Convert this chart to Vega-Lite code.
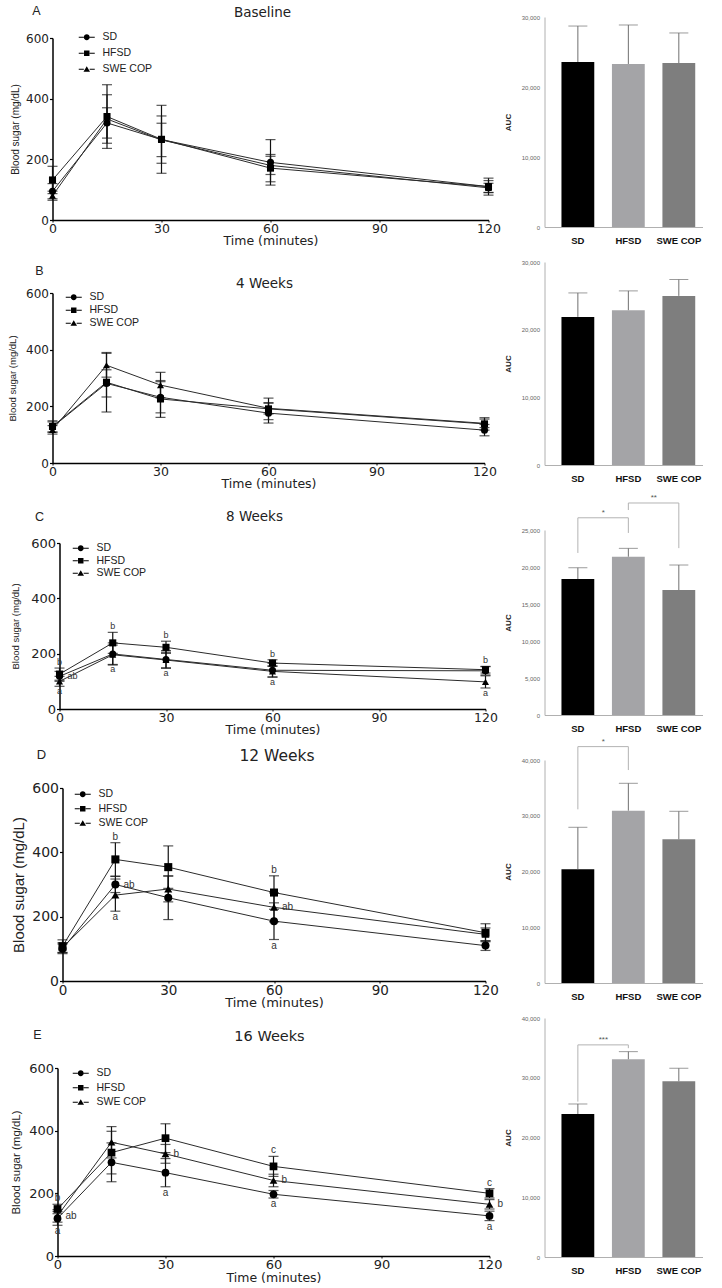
{
  "$schema": "https://vega.github.io/schema/vega-lite/v6.json",
  "background": "white",
  "padding": {"left": 7.5, "top": 4, "right": 0, "bottom": 0},
  "autosize": {"type": "pad"},
  "columns": 2,
  "bounds": "flush",
  "align": "each",
  "spacing": {"row": 35, "column": 55},
  "config": {"view": {"stroke": null}, "axis": {"grid": false}},
  "datasets": {
    "ogtt_baseline": [
      {"time": 0, "group": "SD", "mean": 95, "sd": 25, "sig": ""},
      {"time": 0, "group": "HFSD", "mean": 132, "sd": 45, "sig": ""},
      {"time": 0, "group": "SWE COP", "mean": 80, "sd": 15, "sig": ""},
      {"time": 15, "group": "SD", "mean": 320, "sd": 50, "sig": ""},
      {"time": 15, "group": "HFSD", "mean": 341, "sd": 105, "sig": ""},
      {"time": 15, "group": "SWE COP", "mean": 333, "sd": 80, "sig": ""},
      {"time": 30, "group": "SD", "mean": 265, "sd": 78, "sig": ""},
      {"time": 30, "group": "HFSD", "mean": 266, "sd": 112, "sig": ""},
      {"time": 30, "group": "SWE COP", "mean": 264, "sd": 55, "sig": ""},
      {"time": 60, "group": "SD", "mean": 190, "sd": 75, "sig": ""},
      {"time": 60, "group": "HFSD", "mean": 171, "sd": 45, "sig": ""},
      {"time": 60, "group": "SWE COP", "mean": 180, "sd": 30, "sig": ""},
      {"time": 120, "group": "SD", "mean": 110, "sd": 20, "sig": ""},
      {"time": 120, "group": "HFSD", "mean": 110, "sd": 28, "sig": ""},
      {"time": 120, "group": "SWE COP", "mean": 106, "sd": 15, "sig": ""}
    ],
    "ogtt_4w": [
      {"time": 0, "group": "SD", "mean": 127, "sd": 18, "sig": ""},
      {"time": 0, "group": "HFSD", "mean": 129, "sd": 20, "sig": ""},
      {"time": 0, "group": "SWE COP", "mean": 117, "sd": 15, "sig": ""},
      {"time": 15, "group": "SD", "mean": 281, "sd": 48, "sig": ""},
      {"time": 15, "group": "HFSD", "mean": 285, "sd": 105, "sig": ""},
      {"time": 15, "group": "SWE COP", "mean": 345, "sd": 42, "sig": ""},
      {"time": 30, "group": "SD", "mean": 232, "sd": 55, "sig": ""},
      {"time": 30, "group": "HFSD", "mean": 226, "sd": 65, "sig": ""},
      {"time": 30, "group": "SWE COP", "mean": 275, "sd": 45, "sig": ""},
      {"time": 60, "group": "SD", "mean": 176, "sd": 35, "sig": ""},
      {"time": 60, "group": "HFSD", "mean": 191, "sd": 38, "sig": ""},
      {"time": 60, "group": "SWE COP", "mean": 193, "sd": 20, "sig": ""},
      {"time": 120, "group": "SD", "mean": 116, "sd": 20, "sig": ""},
      {"time": 120, "group": "HFSD", "mean": 138, "sd": 22, "sig": ""},
      {"time": 120, "group": "SWE COP", "mean": 140, "sd": 15, "sig": ""}
    ],
    "ogtt_8w": [
      {"time": 0, "group": "SD", "mean": 118, "sd": 18, "sig": "ab"},
      {"time": 0, "group": "HFSD", "mean": 126, "sd": 22, "sig": "b"},
      {"time": 0, "group": "SWE COP", "mean": 100, "sd": 18, "sig": "a"},
      {"time": 15, "group": "SD", "mean": 199, "sd": 40, "sig": ""},
      {"time": 15, "group": "HFSD", "mean": 239, "sd": 38, "sig": "b"},
      {"time": 15, "group": "SWE COP", "mean": 196, "sd": 35, "sig": "a"},
      {"time": 30, "group": "SD", "mean": 179, "sd": 32, "sig": ""},
      {"time": 30, "group": "HFSD", "mean": 223, "sd": 22, "sig": "b"},
      {"time": 30, "group": "SWE COP", "mean": 177, "sd": 28, "sig": "a"},
      {"time": 60, "group": "SD", "mean": 140, "sd": 25, "sig": ""},
      {"time": 60, "group": "HFSD", "mean": 166, "sd": 12, "sig": "b"},
      {"time": 60, "group": "SWE COP", "mean": 136, "sd": 20, "sig": "a"},
      {"time": 120, "group": "SD", "mean": 138, "sd": 15, "sig": ""},
      {"time": 120, "group": "HFSD", "mean": 142, "sd": 12, "sig": "b"},
      {"time": 120, "group": "SWE COP", "mean": 98, "sd": 22, "sig": "a"}
    ],
    "ogtt_12w": [
      {"time": 0, "group": "SD", "mean": 100, "sd": 15, "sig": ""},
      {"time": 0, "group": "HFSD", "mean": 108, "sd": 20, "sig": ""},
      {"time": 0, "group": "SWE COP", "mean": 104, "sd": 15, "sig": ""},
      {"time": 15, "group": "SD", "mean": 300, "sd": 25, "sig": "ab"},
      {"time": 15, "group": "HFSD", "mean": 378, "sd": 52, "sig": "b"},
      {"time": 15, "group": "SWE COP", "mean": 267, "sd": 50, "sig": "a"},
      {"time": 30, "group": "SD", "mean": 259, "sd": 68, "sig": ""},
      {"time": 30, "group": "HFSD", "mean": 354, "sd": 66, "sig": ""},
      {"time": 30, "group": "SWE COP", "mean": 286, "sd": 40, "sig": ""},
      {"time": 60, "group": "SD", "mean": 186, "sd": 57, "sig": "a"},
      {"time": 60, "group": "HFSD", "mean": 275, "sd": 52, "sig": "b"},
      {"time": 60, "group": "SWE COP", "mean": 229, "sd": 45, "sig": "ab"},
      {"time": 120, "group": "SD", "mean": 110, "sd": 15, "sig": ""},
      {"time": 120, "group": "HFSD", "mean": 150, "sd": 28, "sig": ""},
      {"time": 120, "group": "SWE COP", "mean": 145, "sd": 20, "sig": ""}
    ],
    "ogtt_16w": [
      {"time": 0, "group": "SD", "mean": 120, "sd": 22, "sig": "a"},
      {"time": 0, "group": "HFSD", "mean": 150, "sd": 15, "sig": "b"},
      {"time": 0, "group": "SWE COP", "mean": 128, "sd": 20, "sig": "ab"},
      {"time": 15, "group": "SD", "mean": 299, "sd": 62, "sig": ""},
      {"time": 15, "group": "HFSD", "mean": 330, "sd": 68, "sig": ""},
      {"time": 15, "group": "SWE COP", "mean": 363, "sd": 50, "sig": ""},
      {"time": 30, "group": "SD", "mean": 266, "sd": 45, "sig": "a"},
      {"time": 30, "group": "HFSD", "mean": 376, "sd": 46, "sig": ""},
      {"time": 30, "group": "SWE COP", "mean": 326, "sd": 30, "sig": "b"},
      {"time": 60, "group": "SD", "mean": 197, "sd": 12, "sig": "a"},
      {"time": 60, "group": "HFSD", "mean": 286, "sd": 32, "sig": "c"},
      {"time": 60, "group": "SWE COP", "mean": 241, "sd": 20, "sig": "b"},
      {"time": 120, "group": "SD", "mean": 128, "sd": 15, "sig": "a"},
      {"time": 120, "group": "HFSD", "mean": 200, "sd": 15, "sig": "c"},
      {"time": 120, "group": "SWE COP", "mean": 165, "sd": 15, "sig": "b"}
    ],
    "auc_baseline": [
      {"group": "SD", "auc": 23570, "sd": 5140},
      {"group": "HFSD", "auc": 23290, "sd": 5570},
      {"group": "SWE COP", "auc": 23430, "sd": 4290}
    ],
    "auc_4w": [
      {"group": "SD", "auc": 21890, "sd": 3540},
      {"group": "HFSD", "auc": 22880, "sd": 2850},
      {"group": "SWE COP", "auc": 24990, "sd": 2420}
    ],
    "auc_8w": [
      {"group": "SD", "auc": 18370, "sd": 1530},
      {"group": "HFSD", "auc": 21390, "sd": 1130},
      {"group": "SWE COP", "auc": 16890, "sd": 3380}
    ],
    "auc_12w": [
      {"group": "SD", "auc": 20400, "sd": 7530},
      {"group": "HFSD", "auc": 30910, "sd": 4910},
      {"group": "SWE COP", "auc": 25780, "sd": 5020}
    ],
    "auc_16w": [
      {"group": "SD", "auc": 23940, "sd": 1670},
      {"group": "HFSD", "auc": 33100, "sd": 1270},
      {"group": "SWE COP", "auc": 29410, "sd": 2180}
    ],
    "brackets": [
      {"panel": "C", "bracket": "c1", "group": "SD", "pos": 1, "value": 21900},
      {"panel": "C", "bracket": "c1", "group": "SD", "pos": 2, "value": 26650},
      {"panel": "C", "bracket": "c1", "group": "HFSD", "pos": 3, "value": 26650},
      {"panel": "C", "bracket": "c1", "group": "HFSD", "pos": 4, "value": 24600},
      {"panel": "C", "bracket": "c2", "group": "HFSD", "pos": 1, "value": 27700},
      {"panel": "C", "bracket": "c2", "group": "HFSD", "pos": 2, "value": 28650},
      {"panel": "C", "bracket": "c2", "group": "SWE COP", "pos": 3, "value": 28650},
      {"panel": "C", "bracket": "c2", "group": "SWE COP", "pos": 4, "value": 22550},
      {"panel": "D", "bracket": "d1", "group": "SD", "pos": 1, "value": 31150},
      {"panel": "D", "bracket": "d1", "group": "SD", "pos": 2, "value": 42400},
      {"panel": "D", "bracket": "d1", "group": "HFSD", "pos": 3, "value": 42400},
      {"panel": "D", "bracket": "d1", "group": "HFSD", "pos": 4, "value": 38200},
      {"panel": "E", "bracket": "e1", "group": "SD", "pos": 1, "value": 26000},
      {"panel": "E", "bracket": "e1", "group": "SD", "pos": 2, "value": 35500},
      {"panel": "E", "bracket": "e1", "group": "HFSD", "pos": 3, "value": 35500},
      {"panel": "E", "bracket": "e1", "group": "HFSD", "pos": 4, "value": 34950}
    ],
    "stars": [
      {"panel": "C", "group": "HFSD", "value": 26650, "label": "*"},
      {"panel": "C", "group": "SWE COP", "value": 28650, "label": "**"},
      {"panel": "D", "group": "HFSD", "value": 42400, "label": "*"},
      {"panel": "E", "group": "HFSD", "value": 35500, "label": "***"}
    ]
  },
  "concat": [
    {
      "width": 437, "height": 203,
      "title": {"text": "Baseline", "anchor": "middle", "frame": "group", "baseline": "middle", "offset": -9, "dx": -8.5, "font": "DejaVu Sans", "fontSize": 13.5, "fontWeight": "normal", "color": "#222"},
      "data": {"name": "ogtt_baseline"},
      "transform": [
        {"calculate": "datum.mean + datum.sd", "as": "upper"},
        {"calculate": "datum.mean - datum.sd", "as": "lower"}
      ],
      "encoding": {
        "x": {"field": "time", "type": "quantitative",
          "scale": {"domain": [0, 120], "range": [0, 436], "nice": false, "zero": false},
          "axis": {"values": [0, 30, 60, 90, 120], "title": "Time (minutes)", "titleFont": "DejaVu Sans", "titleFontSize": 12.5, "titleFontWeight": "normal", "titleColor": "#222", "titlePadding": 0, "labelFont": "DejaVu Sans", "labelFontSize": 12.5, "labelColor": "#222", "labelPadding": 0, "labelFlush": false, "labelOverlap": false, "tickSize": 2, "tickColor": "#000", "domainColor": "#000", "domainWidth": 1.5}},
        "y": {"field": "mean", "type": "quantitative",
          "scale": {"domain": [0, 600], "range": [203, 21], "nice": false},
          "axis": {"values": [0, 200, 400, 600], "title": "Blood sugar (mg/dL)", "titleFont": "Liberation Sans", "titleFontSize": 10, "titleFontWeight": "normal", "titleColor": "#222", "titlePadding": 5, "labelFont": "DejaVu Sans", "labelFontSize": 12, "labelColor": "#222", "labelPadding": 1, "tickSize": 3, "tickColor": "#000", "tickWidth": 1.2, "domainColor": "#000", "domainWidth": 1.5}}
      },
      "layer": [
        {"mark": {"type": "line", "color": "#2b2b2b", "strokeWidth": 1}, "encoding": {"detail": {"field": "group"}}},
        {"mark": {"type": "rule", "color": "#111", "strokeWidth": 1.2}, "encoding": {"y": {"field": "lower", "type": "quantitative"}, "y2": {"field": "upper"}}},
        {"mark": {"type": "tick", "orient": "horizontal", "size": 10, "thickness": 1.2, "color": "#111"}, "encoding": {"y": {"field": "upper", "type": "quantitative"}}},
        {"mark": {"type": "tick", "orient": "horizontal", "size": 10, "thickness": 1.2, "color": "#111"}, "encoding": {"y": {"field": "lower", "type": "quantitative"}}},
        {"mark": {"type": "point", "filled": true, "color": "#000", "size": 50, "opacity": 1},
          "encoding": {"shape": {"field": "group", "type": "nominal", "scale": {"domain": ["SD", "HFSD", "SWE COP"], "range": ["circle", "square", "triangle-up"]}, "legend": null}}},
        {"transform": [{"filter": "datum.time < 0"}],
          "mark": {"type": "point", "filled": true, "color": "#000"},
          "encoding": {"shape": {"field": "group", "type": "nominal",
            "scale": {"domain": ["SD", "HFSD", "SWE COP"], "range": [
              "M-2.2,-0.12H-0.8V0.12H-2.2Z M0.8,-0.12H2.2V0.12H0.8Z M-0.8,0A0.8,0.8 0 1,1 0.8,0A0.8,0.8 0 1,1 -0.8,0Z",
              "M-2.2,-0.12H-0.8V0.12H-2.2Z M0.8,-0.12H2.2V0.12H0.8Z M-0.75,-0.75H0.75V0.75H-0.75Z",
              "M-2.2,-0.12H-0.8V0.12H-2.2Z M0.8,-0.12H2.2V0.12H0.8Z M0,-0.85L0.9,0.7H-0.9Z"]},
            "legend": {"orient": "none", "legendX": 29, "legendY": 15, "title": null, "padding": 0, "labelFont": "Liberation Sans", "labelFontSize": 10.5, "labelColor": "#222", "labelOffset": 10.5, "symbolSize": 53, "symbolFillColor": "#000", "symbolStrokeWidth": 0, "symbolOpacity": 1, "rowPadding": 5}}}}
      ],
      "resolve": {"scale": {"shape": "independent"}}
    },
    {
      "width": 158, "height": 210,
      "title": {"text": "A", "anchor": "start", "frame": "group", "align": "center", "baseline": "middle", "offset": -9, "dx": -508, "font": "Liberation Sans", "fontSize": 12.5, "fontWeight": "normal", "color": "#222"},
      "encoding": {
        "x": {"field": "group", "type": "nominal", "sort": null,
          "scale": {"domain": ["SD", "HFSD", "SWE COP"], "paddingInner": 0.35, "paddingOuter": 0.24, "align": 0.7},
          "axis": {"title": null, "labelAngle": 0, "labelFont": "Liberation Sans", "labelFontSize": 9.5, "labelFontWeight": "bold", "labelColor": "#111", "labelPadding": 8, "ticks": false, "domainColor": "#b0b0b0", "domainWidth": 1}},
        "y": {"field": "auc", "type": "quantitative",
          "scale": {"domain": [0, 30000], "nice": false},
          "axis": {"values": [0, 10000, 20000, 30000], "format": ",d", "title": "AUC", "titleFont": "Liberation Sans", "titleFontSize": 8, "titleFontWeight": "bold", "titleColor": "#222", "titlePadding": 9, "labelFont": "Liberation Sans", "labelFontSize": 6, "labelColor": "#666", "labelPadding": 5, "ticks": false, "domainColor": "#b0b0b0", "domainWidth": 1}}
      },
      "layer": [
        {"data": {"name": "auc_baseline"}, "mark": {"type": "bar"},
          "encoding": {"color": {"field": "group", "type": "nominal", "scale": {"domain": ["SD", "HFSD", "SWE COP"], "range": ["#000000", "#a4a4a7", "#7e7e7e"]}, "legend": null}}},
        {"data": {"name": "auc_baseline"}, "transform": [{"calculate": "datum.auc + datum.sd", "as": "upper"}],
          "mark": {"type": "rule", "color": "#707070", "strokeWidth": 1}, "encoding": {"y2": {"field": "upper"}}},
        {"data": {"name": "auc_baseline"}, "transform": [{"calculate": "datum.auc + datum.sd", "as": "upper"}],
          "mark": {"type": "tick", "orient": "horizontal", "size": 19, "thickness": 1, "color": "#707070"}, "encoding": {"y": {"field": "upper", "type": "quantitative"}}}
      ]
    },
    {
      "width": 437, "height": 201,
      "title": {"text": "4 Weeks", "anchor": "middle", "frame": "group", "baseline": "middle", "offset": -35, "dx": -6.5, "font": "DejaVu Sans", "fontSize": 13.5, "fontWeight": "normal", "color": "#222"},
      "data": {"name": "ogtt_4w"},
      "transform": [
        {"calculate": "datum.mean + datum.sd", "as": "upper"},
        {"calculate": "datum.mean - datum.sd", "as": "lower"}
      ],
      "encoding": {
        "x": {"field": "time", "type": "quantitative",
          "scale": {"domain": [0, 120], "range": [0, 432], "nice": false, "zero": false},
          "axis": {"values": [0, 30, 60, 90, 120], "title": "Time (minutes)", "titleFont": "DejaVu Sans", "titleFontSize": 12.5, "titleFontWeight": "normal", "titleColor": "#222", "titlePadding": 0, "labelFont": "DejaVu Sans", "labelFontSize": 12.5, "labelColor": "#222", "labelPadding": 0, "labelFlush": false, "labelOverlap": false, "tickSize": 2, "tickColor": "#000", "domainColor": "#000", "domainWidth": 1.5}},
        "y": {"field": "mean", "type": "quantitative",
          "scale": {"domain": [0, 600], "range": [201, 31], "nice": false},
          "axis": {"values": [0, 200, 400, 600], "title": "Blood sugar (mg/dL)", "titleFont": "Liberation Sans", "titleFontSize": 9.5, "titleFontWeight": "normal", "titleColor": "#222", "titlePadding": 8, "labelFont": "DejaVu Sans", "labelFontSize": 12, "labelColor": "#222", "labelPadding": 1, "tickSize": 3, "tickColor": "#000", "tickWidth": 1.2, "domainColor": "#000", "domainWidth": 1.5}}
      },
      "layer": [
        {"mark": {"type": "line", "color": "#2b2b2b", "strokeWidth": 1}, "encoding": {"detail": {"field": "group"}}},
        {"mark": {"type": "rule", "color": "#111", "strokeWidth": 1.2}, "encoding": {"y": {"field": "lower", "type": "quantitative"}, "y2": {"field": "upper"}}},
        {"mark": {"type": "tick", "orient": "horizontal", "size": 10, "thickness": 1.2, "color": "#111"}, "encoding": {"y": {"field": "upper", "type": "quantitative"}}},
        {"mark": {"type": "tick", "orient": "horizontal", "size": 10, "thickness": 1.2, "color": "#111"}, "encoding": {"y": {"field": "lower", "type": "quantitative"}}},
        {"mark": {"type": "point", "filled": true, "color": "#000", "size": 50, "opacity": 1},
          "encoding": {"shape": {"field": "group", "type": "nominal", "scale": {"domain": ["SD", "HFSD", "SWE COP"], "range": ["circle", "square", "triangle-up"]}, "legend": null}}},
        {"transform": [{"filter": "datum.time < 0"}],
          "mark": {"type": "point", "filled": true, "color": "#000"},
          "encoding": {"shape": {"field": "group", "type": "nominal",
            "scale": {"domain": ["SD", "HFSD", "SWE COP"], "range": [
              "M-2.2,-0.12H-0.8V0.12H-2.2Z M0.8,-0.12H2.2V0.12H0.8Z M-0.8,0A0.8,0.8 0 1,1 0.8,0A0.8,0.8 0 1,1 -0.8,0Z",
              "M-2.2,-0.12H-0.8V0.12H-2.2Z M0.8,-0.12H2.2V0.12H0.8Z M-0.75,-0.75H0.75V0.75H-0.75Z",
              "M-2.2,-0.12H-0.8V0.12H-2.2Z M0.8,-0.12H2.2V0.12H0.8Z M0,-0.85L0.9,0.7H-0.9Z"]},
            "legend": {"orient": "none", "legendX": 16, "legendY": 30, "title": null, "padding": 0, "labelFont": "Liberation Sans", "labelFontSize": 10.5, "labelColor": "#222", "labelOffset": 10.5, "symbolSize": 53, "symbolFillColor": "#000", "symbolStrokeWidth": 0, "symbolOpacity": 1, "rowPadding": 2}}}}
      ],
      "resolve": {"scale": {"shape": "independent"}}
    },
    {
      "width": 158, "height": 203,
      "title": {"text": "B", "anchor": "start", "frame": "group", "align": "center", "baseline": "middle", "offset": -24, "dx": -505, "font": "Liberation Sans", "fontSize": 12.5, "fontWeight": "normal", "color": "#222"},
      "encoding": {
        "x": {"field": "group", "type": "nominal", "sort": null,
          "scale": {"domain": ["SD", "HFSD", "SWE COP"], "paddingInner": 0.35, "paddingOuter": 0.24, "align": 0.7},
          "axis": {"title": null, "labelAngle": 0, "labelFont": "Liberation Sans", "labelFontSize": 9.5, "labelFontWeight": "bold", "labelColor": "#111", "labelPadding": 8, "ticks": false, "domainColor": "#b0b0b0", "domainWidth": 1}},
        "y": {"field": "auc", "type": "quantitative",
          "scale": {"domain": [0, 30000], "nice": false},
          "axis": {"values": [0, 10000, 20000, 30000], "format": ",d", "title": "AUC", "titleFont": "Liberation Sans", "titleFontSize": 8, "titleFontWeight": "bold", "titleColor": "#222", "titlePadding": 9, "labelFont": "Liberation Sans", "labelFontSize": 6, "labelColor": "#666", "labelPadding": 5, "ticks": false, "domainColor": "#b0b0b0", "domainWidth": 1}}
      },
      "layer": [
        {"data": {"name": "auc_4w"}, "mark": {"type": "bar"},
          "encoding": {"color": {"field": "group", "type": "nominal", "scale": {"domain": ["SD", "HFSD", "SWE COP"], "range": ["#000000", "#a4a4a7", "#7e7e7e"]}, "legend": null}}},
        {"data": {"name": "auc_4w"}, "transform": [{"calculate": "datum.auc + datum.sd", "as": "upper"}],
          "mark": {"type": "rule", "color": "#707070", "strokeWidth": 1}, "encoding": {"y2": {"field": "upper"}}},
        {"data": {"name": "auc_4w"}, "transform": [{"calculate": "datum.auc + datum.sd", "as": "upper"}],
          "mark": {"type": "tick", "orient": "horizontal", "size": 19, "thickness": 1, "color": "#707070"}, "encoding": {"y": {"field": "upper", "type": "quantitative"}}}
      ]
    },
    {
      "width": 437, "height": 209,
      "title": {"text": "8 Weeks", "anchor": "middle", "frame": "group", "baseline": "middle", "offset": -30.5, "dx": -16.5, "font": "DejaVu Sans", "fontSize": 13.5, "fontWeight": "normal", "color": "#222"},
      "data": {"name": "ogtt_8w"},
      "transform": [
        {"calculate": "datum.mean + datum.sd", "as": "upper"},
        {"calculate": "datum.mean - datum.sd", "as": "lower"},
        {"window": [{"op": "row_number", "as": "rank"}], "groupby": ["time"], "sort": [{"field": "mean", "order": "descending"}]}
      ],
      "encoding": {
        "x": {"field": "time", "type": "quantitative",
          "scale": {"domain": [0, 120], "range": [7, 433], "nice": false, "zero": false},
          "axis": {"values": [0, 30, 60, 90, 120], "title": "Time (minutes)", "titleFont": "DejaVu Sans", "titleFontSize": 12.5, "titleFontWeight": "normal", "titleColor": "#222", "titlePadding": 0, "labelFont": "DejaVu Sans", "labelFontSize": 12.5, "labelColor": "#222", "labelPadding": 0, "labelFlush": false, "labelOverlap": false, "tickSize": 2, "tickColor": "#000", "domainColor": "#000", "domainWidth": 1.5}},
        "y": {"field": "mean", "type": "quantitative",
          "scale": {"domain": [0, 600], "range": [209, 43], "nice": false},
          "axis": {"offset": -7, "values": [0, 200, 400, 600], "title": "Blood sugar (mg/dL)", "titleFont": "Liberation Sans", "titleFontSize": 9.5, "titleFontWeight": "normal", "titleColor": "#222", "titlePadding": 10.5, "labelFont": "DejaVu Sans", "labelFontSize": 13, "labelColor": "#222", "labelPadding": 1, "tickSize": 3, "tickColor": "#000", "tickWidth": 1.2, "domainColor": "#000", "domainWidth": 1.5}}
      },
      "layer": [
        {"mark": {"type": "line", "color": "#2b2b2b", "strokeWidth": 1}, "encoding": {"detail": {"field": "group"}}},
        {"mark": {"type": "rule", "color": "#111", "strokeWidth": 1.2}, "encoding": {"y": {"field": "lower", "type": "quantitative"}, "y2": {"field": "upper"}}},
        {"mark": {"type": "tick", "orient": "horizontal", "size": 10, "thickness": 1.2, "color": "#111"}, "encoding": {"y": {"field": "upper", "type": "quantitative"}}},
        {"mark": {"type": "tick", "orient": "horizontal", "size": 10, "thickness": 1.2, "color": "#111"}, "encoding": {"y": {"field": "lower", "type": "quantitative"}}},
        {"mark": {"type": "point", "filled": true, "color": "#000", "size": 50, "opacity": 1},
          "encoding": {"shape": {"field": "group", "type": "nominal", "scale": {"domain": ["SD", "HFSD", "SWE COP"], "range": ["circle", "square", "triangle-up"]}, "legend": null}}},
        {"transform": [{"filter": "datum.time < 0"}],
          "mark": {"type": "point", "filled": true, "color": "#000"},
          "encoding": {"shape": {"field": "group", "type": "nominal",
            "scale": {"domain": ["SD", "HFSD", "SWE COP"], "range": [
              "M-2.2,-0.12H-0.8V0.12H-2.2Z M0.8,-0.12H2.2V0.12H0.8Z M-0.8,0A0.8,0.8 0 1,1 0.8,0A0.8,0.8 0 1,1 -0.8,0Z",
              "M-2.2,-0.12H-0.8V0.12H-2.2Z M0.8,-0.12H2.2V0.12H0.8Z M-0.75,-0.75H0.75V0.75H-0.75Z",
              "M-2.2,-0.12H-0.8V0.12H-2.2Z M0.8,-0.12H2.2V0.12H0.8Z M0,-0.85L0.9,0.7H-0.9Z"]},
            "legend": {"orient": "none", "legendX": 23, "legendY": 43, "title": null, "padding": 0, "labelFont": "Liberation Sans", "labelFontSize": 10.5, "labelColor": "#222", "labelOffset": 10.5, "symbolSize": 53, "symbolFillColor": "#000", "symbolStrokeWidth": 0, "symbolOpacity": 1, "rowPadding": 1.5}}}},
        {"transform": [{"filter": "datum.rank === 1 && datum.sig"}],
          "mark": {"type": "text", "font": "Liberation Sans", "fontSize": 9, "color": "#333", "baseline": "bottom", "dy": -1},
          "encoding": {"y": {"field": "upper", "type": "quantitative"}, "text": {"field": "sig"}}},
        {"transform": [{"filter": "datum.rank === 2 && datum.sig"}],
          "mark": {"type": "text", "font": "Liberation Sans", "fontSize": 9, "color": "#333", "baseline": "middle", "align": "left", "dx": 8},
          "encoding": {"text": {"field": "sig"}}},
        {"transform": [{"filter": "datum.rank === 3 && datum.sig"}],
          "mark": {"type": "text", "font": "Liberation Sans", "fontSize": 9, "color": "#333", "baseline": "top", "dy": 1},
          "encoding": {"y": {"field": "lower", "type": "quantitative"}, "text": {"field": "sig"}}}
      ],
      "resolve": {"scale": {"shape": "independent"}}
    },
    {
      "width": 158, "height": 215,
      "title": {"text": "C", "anchor": "start", "frame": "group", "align": "center", "baseline": "middle", "offset": -35.2, "dx": -505, "font": "Liberation Sans", "fontSize": 12.5, "fontWeight": "normal", "color": "#222"},
      "encoding": {
        "x": {"field": "group", "type": "nominal", "sort": null,
          "scale": {"domain": ["SD", "HFSD", "SWE COP"], "paddingInner": 0.35, "paddingOuter": 0.24, "align": 0.7},
          "axis": {"title": null, "labelAngle": 0, "labelFont": "Liberation Sans", "labelFontSize": 9.5, "labelFontWeight": "bold", "labelColor": "#111", "labelPadding": 8, "ticks": false, "domainColor": "#b0b0b0", "domainWidth": 1}},
        "y": {"field": "auc", "type": "quantitative",
          "scale": {"domain": [0, 25000], "range": [215, 30], "nice": false},
          "axis": {"values": [0, 5000, 10000, 15000, 20000, 25000], "format": ",d", "title": "AUC", "titleFont": "Liberation Sans", "titleFontSize": 8, "titleFontWeight": "bold", "titleColor": "#222", "titlePadding": 9, "labelFont": "Liberation Sans", "labelFontSize": 6, "labelColor": "#666", "labelPadding": 5, "ticks": false, "domainColor": "#b0b0b0", "domainWidth": 1}}
      },
      "layer": [
        {"data": {"name": "auc_8w"}, "mark": {"type": "bar"},
          "encoding": {"color": {"field": "group", "type": "nominal", "scale": {"domain": ["SD", "HFSD", "SWE COP"], "range": ["#000000", "#a4a4a7", "#7e7e7e"]}, "legend": null}}},
        {"data": {"name": "auc_8w"}, "transform": [{"calculate": "datum.auc + datum.sd", "as": "upper"}],
          "mark": {"type": "rule", "color": "#707070", "strokeWidth": 1}, "encoding": {"y2": {"field": "upper"}}},
        {"data": {"name": "auc_8w"}, "transform": [{"calculate": "datum.auc + datum.sd", "as": "upper"}],
          "mark": {"type": "tick", "orient": "horizontal", "size": 19, "thickness": 1, "color": "#707070"}, "encoding": {"y": {"field": "upper", "type": "quantitative"}}},
        {"data": {"name": "brackets"}, "transform": [{"filter": "datum.panel === 'C'"}],
          "mark": {"type": "line", "color": "#b3b3b3", "strokeWidth": 1},
          "encoding": {"y": {"field": "value", "type": "quantitative"}, "detail": {"field": "bracket"}, "order": {"field": "pos"}}},
        {"data": {"name": "stars"}, "transform": [{"filter": "datum.panel === 'C'"}],
          "mark": {"type": "text", "font": "Liberation Sans", "fontSize": 8, "color": "#555", "baseline": "bottom", "dx": -25, "dy": -1},
          "encoding": {"y": {"field": "value", "type": "quantitative"}, "text": {"field": "label"}}}
      ]
    },
    {
      "width": 437, "height": 231,
      "title": {"text": "12 Weeks", "anchor": "middle", "frame": "group", "baseline": "middle", "offset": -21, "dx": 6, "font": "DejaVu Sans", "fontSize": 15.5, "fontWeight": "normal", "color": "#222"},
      "data": {"name": "ogtt_12w"},
      "transform": [
        {"calculate": "datum.mean + datum.sd", "as": "upper"},
        {"calculate": "datum.mean - datum.sd", "as": "lower"},
        {"window": [{"op": "row_number", "as": "rank"}], "groupby": ["time"], "sort": [{"field": "mean", "order": "descending"}]}
      ],
      "encoding": {
        "x": {"field": "time", "type": "quantitative",
          "scale": {"domain": [0, 120], "range": [10, 433], "nice": false, "zero": false},
          "axis": {"values": [0, 30, 60, 90, 120], "title": "Time (minutes)", "titleFont": "DejaVu Sans", "titleFontSize": 13, "titleFontWeight": "normal", "titleColor": "#222", "titlePadding": 0, "labelFont": "DejaVu Sans", "labelFontSize": 13.5, "labelColor": "#222", "labelPadding": 0, "labelFlush": false, "labelOverlap": false, "tickSize": 2, "tickColor": "#000", "domainColor": "#000", "domainWidth": 1.5}},
        "y": {"field": "mean", "type": "quantitative",
          "scale": {"domain": [0, 600], "range": [231, 38], "nice": false},
          "axis": {"offset": -10, "values": [0, 200, 400, 600], "title": "Blood sugar (mg/dL)", "titleFont": "Liberation Sans", "titleFontSize": 15, "titleFontWeight": "normal", "titleColor": "#222", "titlePadding": 5, "labelFont": "DejaVu Sans", "labelFontSize": 14, "labelColor": "#222", "labelPadding": 1, "tickSize": 3, "tickColor": "#000", "tickWidth": 1.2, "domainColor": "#000", "domainWidth": 1.5}}
      },
      "layer": [
        {"mark": {"type": "line", "color": "#2b2b2b", "strokeWidth": 1}, "encoding": {"detail": {"field": "group"}}},
        {"mark": {"type": "rule", "color": "#111", "strokeWidth": 1.2}, "encoding": {"y": {"field": "lower", "type": "quantitative"}, "y2": {"field": "upper"}}},
        {"mark": {"type": "tick", "orient": "horizontal", "size": 10, "thickness": 1.2, "color": "#111"}, "encoding": {"y": {"field": "upper", "type": "quantitative"}}},
        {"mark": {"type": "tick", "orient": "horizontal", "size": 10, "thickness": 1.2, "color": "#111"}, "encoding": {"y": {"field": "lower", "type": "quantitative"}}},
        {"mark": {"type": "point", "filled": true, "color": "#000", "size": 65, "opacity": 1},
          "encoding": {"shape": {"field": "group", "type": "nominal", "scale": {"domain": ["SD", "HFSD", "SWE COP"], "range": ["circle", "square", "triangle-up"]}, "legend": null}}},
        {"transform": [{"filter": "datum.time < 0"}],
          "mark": {"type": "point", "filled": true, "color": "#000"},
          "encoding": {"shape": {"field": "group", "type": "nominal",
            "scale": {"domain": ["SD", "HFSD", "SWE COP"], "range": [
              "M-2.2,-0.12H-0.8V0.12H-2.2Z M0.8,-0.12H2.2V0.12H0.8Z M-0.8,0A0.8,0.8 0 1,1 0.8,0A0.8,0.8 0 1,1 -0.8,0Z",
              "M-2.2,-0.12H-0.8V0.12H-2.2Z M0.8,-0.12H2.2V0.12H0.8Z M-0.75,-0.75H0.75V0.75H-0.75Z",
              "M-2.2,-0.12H-0.8V0.12H-2.2Z M0.8,-0.12H2.2V0.12H0.8Z M0,-0.85L0.9,0.7H-0.9Z"]},
            "legend": {"orient": "none", "legendX": 25, "legendY": 39, "title": null, "padding": 0, "labelFont": "Liberation Sans", "labelFontSize": 10.5, "labelColor": "#222", "labelOffset": 10.5, "symbolSize": 53, "symbolFillColor": "#000", "symbolStrokeWidth": 0, "symbolOpacity": 1, "rowPadding": 3.5}}}},
        {"transform": [{"filter": "datum.rank === 1 && datum.sig"}],
          "mark": {"type": "text", "font": "Liberation Sans", "fontSize": 10, "color": "#333", "baseline": "bottom", "dy": -1},
          "encoding": {"y": {"field": "upper", "type": "quantitative"}, "text": {"field": "sig"}}},
        {"transform": [{"filter": "datum.rank === 2 && datum.sig"}],
          "mark": {"type": "text", "font": "Liberation Sans", "fontSize": 10, "color": "#333", "baseline": "middle", "align": "left", "dx": 8},
          "encoding": {"text": {"field": "sig"}}},
        {"transform": [{"filter": "datum.rank === 3 && datum.sig"}],
          "mark": {"type": "text", "font": "Liberation Sans", "fontSize": 10, "color": "#333", "baseline": "top", "dy": 1},
          "encoding": {"y": {"field": "lower", "type": "quantitative"}, "text": {"field": "sig"}}}
      ],
      "resolve": {"scale": {"shape": "independent"}}
    },
    {
      "width": 158, "height": 233,
      "title": {"text": "D", "anchor": "start", "frame": "group", "align": "center", "baseline": "middle", "offset": -30.4, "dx": -503, "font": "Liberation Sans", "fontSize": 13, "fontWeight": "normal", "color": "#222"},
      "encoding": {
        "x": {"field": "group", "type": "nominal", "sort": null,
          "scale": {"domain": ["SD", "HFSD", "SWE COP"], "paddingInner": 0.35, "paddingOuter": 0.24, "align": 0.7},
          "axis": {"title": null, "labelAngle": 0, "labelFont": "Liberation Sans", "labelFontSize": 9.5, "labelFontWeight": "bold", "labelColor": "#111", "labelPadding": 8, "ticks": false, "domainColor": "#b0b0b0", "domainWidth": 1}},
        "y": {"field": "auc", "type": "quantitative",
          "scale": {"domain": [0, 40000], "range": [233, 10], "nice": false},
          "axis": {"values": [0, 10000, 20000, 30000, 40000], "format": ",d", "title": "AUC", "titleFont": "Liberation Sans", "titleFontSize": 8, "titleFontWeight": "bold", "titleColor": "#222", "titlePadding": 9, "labelFont": "Liberation Sans", "labelFontSize": 6, "labelColor": "#666", "labelPadding": 5, "ticks": false, "domainColor": "#b0b0b0", "domainWidth": 1}}
      },
      "layer": [
        {"data": {"name": "auc_12w"}, "mark": {"type": "bar"},
          "encoding": {"color": {"field": "group", "type": "nominal", "scale": {"domain": ["SD", "HFSD", "SWE COP"], "range": ["#000000", "#a4a4a7", "#7e7e7e"]}, "legend": null}}},
        {"data": {"name": "auc_12w"}, "transform": [{"calculate": "datum.auc + datum.sd", "as": "upper"}],
          "mark": {"type": "rule", "color": "#707070", "strokeWidth": 1}, "encoding": {"y2": {"field": "upper"}}},
        {"data": {"name": "auc_12w"}, "transform": [{"calculate": "datum.auc + datum.sd", "as": "upper"}],
          "mark": {"type": "tick", "orient": "horizontal", "size": 19, "thickness": 1, "color": "#707070"}, "encoding": {"y": {"field": "upper", "type": "quantitative"}}},
        {"data": {"name": "brackets"}, "transform": [{"filter": "datum.panel === 'D'"}],
          "mark": {"type": "line", "color": "#b3b3b3", "strokeWidth": 1},
          "encoding": {"y": {"field": "value", "type": "quantitative"}, "detail": {"field": "bracket"}, "order": {"field": "pos"}}},
        {"data": {"name": "stars"}, "transform": [{"filter": "datum.panel === 'D'"}],
          "mark": {"type": "text", "font": "Liberation Sans", "fontSize": 8, "color": "#555", "baseline": "bottom", "dx": -25, "dy": -1},
          "encoding": {"y": {"field": "value", "type": "quantitative"}, "text": {"field": "label"}}}
      ]
    },
    {
      "width": 437, "height": 238,
      "title": {"text": "16 Weeks", "anchor": "middle", "frame": "group", "baseline": "middle", "offset": -33.5, "dx": -1.5, "font": "DejaVu Sans", "fontSize": 14.5, "fontWeight": "normal", "color": "#222"},
      "data": {"name": "ogtt_16w"},
      "transform": [
        {"calculate": "datum.mean + datum.sd", "as": "upper"},
        {"calculate": "datum.mean - datum.sd", "as": "lower"},
        {"window": [{"op": "row_number", "as": "rank"}], "groupby": ["time"], "sort": [{"field": "mean", "order": "descending"}]}
      ],
      "encoding": {
        "x": {"field": "time", "type": "quantitative",
          "scale": {"domain": [0, 120], "range": [5, 437], "nice": false, "zero": false},
          "axis": {"values": [0, 30, 60, 90, 120], "title": "Time (minutes)", "titleFont": "DejaVu Sans", "titleFontSize": 12.5, "titleFontWeight": "normal", "titleColor": "#222", "titlePadding": 0, "labelFont": "DejaVu Sans", "labelFontSize": 13, "labelColor": "#222", "labelPadding": 0, "labelFlush": false, "labelOverlap": false, "tickSize": 2, "tickColor": "#000", "domainColor": "#000", "domainWidth": 1.5}},
        "y": {"field": "mean", "type": "quantitative",
          "scale": {"domain": [0, 600], "range": [238, 50], "nice": false},
          "axis": {"offset": -5, "values": [0, 200, 400, 600], "title": "Blood sugar (mg/dL)", "titleFont": "Liberation Sans", "titleFontSize": 11.5, "titleFontWeight": "normal", "titleColor": "#222", "titlePadding": 7, "labelFont": "DejaVu Sans", "labelFontSize": 13, "labelColor": "#222", "labelPadding": 1, "tickSize": 3, "tickColor": "#000", "tickWidth": 1.2, "domainColor": "#000", "domainWidth": 1.5}}
      },
      "layer": [
        {"mark": {"type": "line", "color": "#2b2b2b", "strokeWidth": 1}, "encoding": {"detail": {"field": "group"}}},
        {"mark": {"type": "rule", "color": "#111", "strokeWidth": 1.2}, "encoding": {"y": {"field": "lower", "type": "quantitative"}, "y2": {"field": "upper"}}},
        {"mark": {"type": "tick", "orient": "horizontal", "size": 10, "thickness": 1.2, "color": "#111"}, "encoding": {"y": {"field": "upper", "type": "quantitative"}}},
        {"mark": {"type": "tick", "orient": "horizontal", "size": 10, "thickness": 1.2, "color": "#111"}, "encoding": {"y": {"field": "lower", "type": "quantitative"}}},
        {"mark": {"type": "point", "filled": true, "color": "#000", "size": 60, "opacity": 1},
          "encoding": {"shape": {"field": "group", "type": "nominal", "scale": {"domain": ["SD", "HFSD", "SWE COP"], "range": ["circle", "square", "triangle-up"]}, "legend": null}}},
        {"transform": [{"filter": "datum.time < 0"}],
          "mark": {"type": "point", "filled": true, "color": "#000"},
          "encoding": {"shape": {"field": "group", "type": "nominal",
            "scale": {"domain": ["SD", "HFSD", "SWE COP"], "range": [
              "M-2.2,-0.12H-0.8V0.12H-2.2Z M0.8,-0.12H2.2V0.12H0.8Z M-0.8,0A0.8,0.8 0 1,1 0.8,0A0.8,0.8 0 1,1 -0.8,0Z",
              "M-2.2,-0.12H-0.8V0.12H-2.2Z M0.8,-0.12H2.2V0.12H0.8Z M-0.75,-0.75H0.75V0.75H-0.75Z",
              "M-2.2,-0.12H-0.8V0.12H-2.2Z M0.8,-0.12H2.2V0.12H0.8Z M0,-0.85L0.9,0.7H-0.9Z"]},
            "legend": {"orient": "none", "legendX": 23, "legendY": 50, "title": null, "padding": 0, "labelFont": "Liberation Sans", "labelFontSize": 10.5, "labelColor": "#222", "labelOffset": 10.5, "symbolSize": 53, "symbolFillColor": "#000", "symbolStrokeWidth": 0, "symbolOpacity": 1, "rowPadding": 3.5}}}},
        {"transform": [{"filter": "datum.rank === 1 && datum.sig"}],
          "mark": {"type": "text", "font": "Liberation Sans", "fontSize": 10, "color": "#333", "baseline": "bottom", "dy": -1},
          "encoding": {"y": {"field": "upper", "type": "quantitative"}, "text": {"field": "sig"}}},
        {"transform": [{"filter": "datum.rank === 2 && datum.sig"}],
          "mark": {"type": "text", "font": "Liberation Sans", "fontSize": 10, "color": "#333", "baseline": "middle", "align": "left", "dx": 8},
          "encoding": {"text": {"field": "sig"}}},
        {"transform": [{"filter": "datum.rank === 3 && datum.sig"}],
          "mark": {"type": "text", "font": "Liberation Sans", "fontSize": 10, "color": "#333", "baseline": "top", "dy": 1},
          "encoding": {"y": {"field": "lower", "type": "quantitative"}, "text": {"field": "sig"}}}
      ],
      "resolve": {"scale": {"shape": "independent"}}
    },
    {
      "width": 158, "height": 239,
      "title": {"text": "E", "anchor": "start", "frame": "group", "align": "center", "baseline": "middle", "offset": -32.3, "dx": -507, "font": "Liberation Sans", "fontSize": 12.5, "fontWeight": "normal", "color": "#222"},
      "encoding": {
        "x": {"field": "group", "type": "nominal", "sort": null,
          "scale": {"domain": ["SD", "HFSD", "SWE COP"], "paddingInner": 0.35, "paddingOuter": 0.24, "align": 0.7},
          "axis": {"title": null, "labelAngle": 0, "labelFont": "Liberation Sans", "labelFontSize": 9.5, "labelFontWeight": "bold", "labelColor": "#111", "labelPadding": 8, "ticks": false, "domainColor": "#b0b0b0", "domainWidth": 1}},
        "y": {"field": "auc", "type": "quantitative",
          "scale": {"domain": [0, 40000], "nice": false},
          "axis": {"values": [0, 10000, 20000, 30000, 40000], "format": ",d", "title": "AUC", "titleFont": "Liberation Sans", "titleFontSize": 8, "titleFontWeight": "bold", "titleColor": "#222", "titlePadding": 9, "labelFont": "Liberation Sans", "labelFontSize": 6, "labelColor": "#666", "labelPadding": 5, "ticks": false, "domainColor": "#b0b0b0", "domainWidth": 1}}
      },
      "layer": [
        {"data": {"name": "auc_16w"}, "mark": {"type": "bar"},
          "encoding": {"color": {"field": "group", "type": "nominal", "scale": {"domain": ["SD", "HFSD", "SWE COP"], "range": ["#000000", "#a4a4a7", "#7e7e7e"]}, "legend": null}}},
        {"data": {"name": "auc_16w"}, "transform": [{"calculate": "datum.auc + datum.sd", "as": "upper"}],
          "mark": {"type": "rule", "color": "#707070", "strokeWidth": 1}, "encoding": {"y2": {"field": "upper"}}},
        {"data": {"name": "auc_16w"}, "transform": [{"calculate": "datum.auc + datum.sd", "as": "upper"}],
          "mark": {"type": "tick", "orient": "horizontal", "size": 19, "thickness": 1, "color": "#707070"}, "encoding": {"y": {"field": "upper", "type": "quantitative"}}},
        {"data": {"name": "brackets"}, "transform": [{"filter": "datum.panel === 'E'"}],
          "mark": {"type": "line", "color": "#b3b3b3", "strokeWidth": 1},
          "encoding": {"y": {"field": "value", "type": "quantitative"}, "detail": {"field": "bracket"}, "order": {"field": "pos"}}},
        {"data": {"name": "stars"}, "transform": [{"filter": "datum.panel === 'E'"}],
          "mark": {"type": "text", "font": "Liberation Sans", "fontSize": 8, "color": "#555", "baseline": "bottom", "dx": -25, "dy": -1},
          "encoding": {"y": {"field": "value", "type": "quantitative"}, "text": {"field": "label"}}}
      ]
    }
  ]
}
